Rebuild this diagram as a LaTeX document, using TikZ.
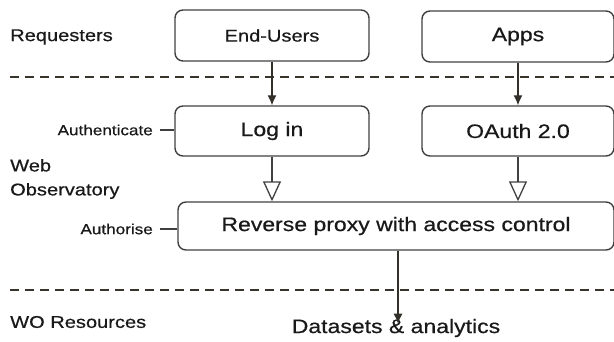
\documentclass[tikz,border=0pt]{standalone}
\usepackage{fontspec}
\setmainfont{Liberation Sans}[FakeStretch=1.18, FakeBold=0.6]
\usetikzlibrary{arrows.meta}

\begin{document}
\begin{tikzpicture}[x=1pt, y=-1pt,
	every node/.style={font=\fontsize{17}{20}\selectfont, text=black!90},
	box/.style={draw=black!75, line width=1.4pt, rounded corners=8pt, inner sep=0pt},
	big/.style={font=\fontsize{19.5}{22}\selectfont},
	side/.style={anchor=west, inner sep=0pt},
	small/.style={font=\fontsize{14.5}{16}\selectfont, anchor=east, inner sep=0pt},
	sep/.style={draw=black!80!olive, line width=1.3pt, dash pattern=on 9pt off 6pt},
	flow/.style={draw=black!85!olive, line width=1.3pt, -{Latex[length=10pt, width=9pt]}},
	tick/.style={draw=black!75, line width=1.3pt},
	open/.style={draw=black!75, line width=1.3pt, -{Triangle[open, length=20pt, width=18pt, line width=1.3pt]}}]
	\useasboundingbox (0,0) rectangle (614,341);
	\node[side] (req) at (10,37) {Requesters};
	\node[side, align=left, font=\fontsize{17}{24}\selectfont] (web) at (10,179) {Web\\Observatory};
	\node[side] (res) at (10,322) {WO Resources};
	\node[box, minimum width=194pt, minimum height=51pt] (users) at (272,35.5) {End-Users};
	\node[box, big, minimum width=192pt, minimum height=51pt] (apps) at (518,36.5) {Apps};
	\node[box, big, minimum width=194pt, minimum height=50pt] (login) at (272,131) {Log in};
	\node[box, big, minimum width=192pt, minimum height=50pt] (oauth) at (518,131) {OAuth 2.0};
	\node[box, big, minimum width=436pt, minimum height=48pt] (proxy) at (396,226) {Reverse proxy with access control};
	\node[big, inner sep=0pt] (data) at (396,328) {Datasets \& analytics};
	\node[small] (authn) at (153,130) {Authenticate};
	\node[small] (authz) at (153,229) {Authorise};
	\coordinate (s1a) at (10,77);
	\coordinate (s1b) at (614,77);
	\coordinate (s2a) at (10,290);
	\coordinate (s2b) at (614,290);
	\draw[sep] (s1a) -- (s1b);
	\draw[sep] (s2a) -- (s2b);
	\draw[flow] (users.south) -- (login.north);
	\draw[flow] (apps.south) -- (oauth.north);
	\draw[open] (login.south) -- (login.south |- proxy.north);
	\draw[open] (oauth.south) -- (oauth.south |- proxy.north);
	\draw[flow] (proxy.south -| 398,0) -- ([yshift=-5pt]data.north -| 398,0);
	\draw[tick] ([xshift=7pt]authn.east) -- (authn.east -| login.west);
	\draw[tick] ([xshift=7pt]authz.east) -- (authz.east -| proxy.west);
\end{tikzpicture}
\end{document}
